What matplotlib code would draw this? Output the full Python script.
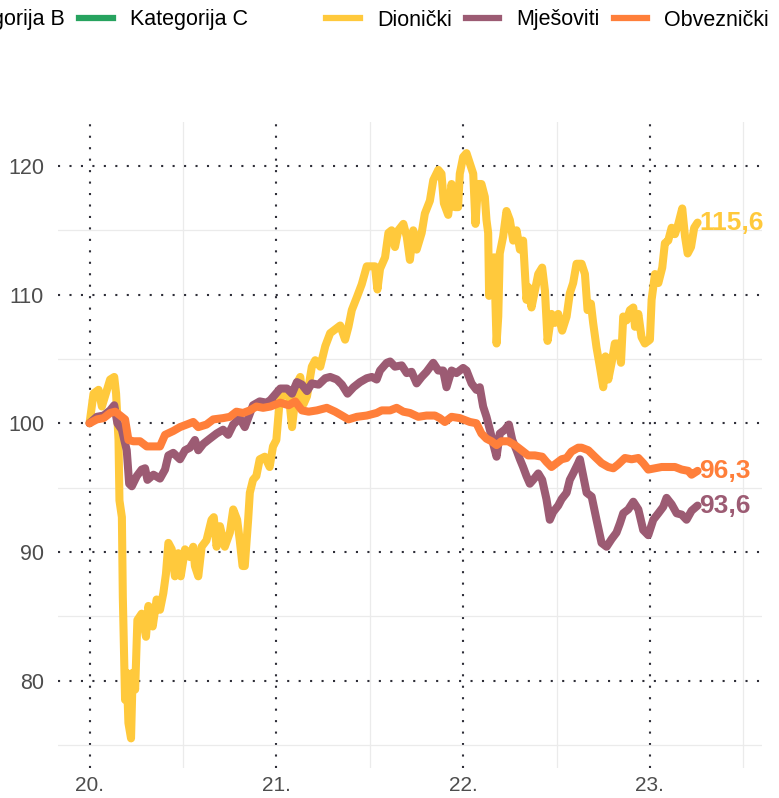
import matplotlib
matplotlib.use('Agg')
import matplotlib.pyplot as plt
from matplotlib.lines import Line2D

plt.rcParams['font.family'] = ['Liberation Sans', 'DejaVu Sans']

# ---------------- data (decimal year, index value) ----------------
dion_t = [2020.000, 2020.021, 2020.048, 2020.066, 2020.093, 2020.110, 2020.132, 2020.142, 2020.155,
          2020.160, 2020.173, 2020.178, 2020.190, 2020.199, 2020.208, 2020.222, 2020.231, 2020.244,
          2020.256, 2020.279, 2020.302, 2020.315, 2020.338, 2020.359, 2020.377, 2020.395, 2020.409,
          2020.422, 2020.440, 2020.457, 2020.475, 2020.488, 2020.511, 2020.537, 2020.555, 2020.564,
          2020.582, 2020.600, 2020.626, 2020.653, 2020.665, 2020.680, 2020.698, 2020.724, 2020.751,
          2020.769, 2020.790, 2020.804, 2020.819, 2020.831, 2020.849, 2020.858, 2020.875, 2020.893,
          2020.911, 2020.938, 2020.964, 2020.982, 2021.000, 2021.018, 2021.039, 2021.066, 2021.084,
          2021.110, 2021.128, 2021.146, 2021.164, 2021.190, 2021.208, 2021.235, 2021.262, 2021.288,
          2021.315, 2021.342, 2021.368, 2021.386, 2021.404, 2021.431, 2021.457, 2021.484, 2021.511,
          2021.528, 2021.541, 2021.555, 2021.582, 2021.600, 2021.617, 2021.635, 2021.653, 2021.680,
          2021.698, 2021.715, 2021.733, 2021.751, 2021.778, 2021.795, 2021.822, 2021.840, 2021.867,
          2021.884, 2021.897, 2021.920, 2021.938, 2021.956, 2021.973, 2021.982, 2022.000, 2022.018,
          2022.036, 2022.054, 2022.066, 2022.080, 2022.098, 2022.116, 2022.125, 2022.134, 2022.139,
          2022.152, 2022.166, 2022.179, 2022.188, 2022.196, 2022.214, 2022.232, 2022.250, 2022.268,
          2022.286, 2022.304, 2022.321, 2022.339, 2022.348, 2022.366, 2022.384, 2022.402, 2022.423,
          2022.438, 2022.452, 2022.473, 2022.491, 2022.509, 2022.530, 2022.554, 2022.571, 2022.589,
          2022.607, 2022.634, 2022.652, 2022.666, 2022.684, 2022.696, 2022.714, 2022.732, 2022.750,
          2022.762, 2022.777, 2022.795, 2022.812, 2022.830, 2022.845, 2022.857, 2022.875, 2022.893,
          2022.911, 2022.920, 2022.938, 2022.955, 2022.973, 2023.000, 2023.009, 2023.027, 2023.045,
          2023.066, 2023.080, 2023.098, 2023.116, 2023.134, 2023.152, 2023.173, 2023.188, 2023.202,
          2023.220, 2023.237, 2023.255]
dion_v = [100.0, 102.3, 102.6, 101.3, 102.6, 103.4, 103.6, 102.3, 98.7,
          94.0, 92.7, 86.5, 78.5, 80.6, 76.7, 75.5, 80.6, 79.3,
          84.7, 85.2, 83.4, 85.8, 84.2, 86.3, 85.5, 86.8, 88.3,
          90.7, 90.2, 88.1, 89.9, 88.1, 90.2, 89.6, 90.4, 88.9,
          88.1, 90.4, 90.9, 92.5, 92.7, 90.4, 92.0, 90.4, 91.5,
          93.3, 92.5, 90.9, 88.9, 88.9, 92.5, 94.6, 95.6, 95.9,
          97.2, 97.4, 96.6, 98.2, 98.7, 101.8, 102.3, 102.3, 99.7,
          103.1, 103.6, 101.5, 102.1, 104.4, 104.9, 104.4, 106.0, 107.0,
          107.3, 107.6, 106.5, 107.5, 108.8, 109.8, 110.8, 112.2, 112.2,
          112.2, 110.4, 112.0, 112.9, 114.8, 115.0, 113.7, 115.0, 115.5,
          114.5, 112.7, 115.0, 113.5, 114.8, 116.3, 117.3, 118.9, 119.7,
          119.4, 117.1, 116.2, 118.6, 116.8, 116.8, 119.4, 120.7, 121.0,
          120.2, 119.4, 115.5, 118.6, 118.6, 117.6, 115.8, 114.8, 109.9,
          110.9, 112.9, 106.2, 108.3, 113.2, 114.5, 116.5, 115.8, 114.2,
          115.0, 113.5, 114.2, 109.6, 110.6, 109.0, 110.3, 111.6, 112.1,
          110.3, 106.4, 108.5, 107.8, 108.5, 107.2, 108.3, 110.1, 110.9,
          112.4, 112.4, 111.6, 108.8, 109.3, 107.8, 105.9, 104.4, 102.8,
          105.2, 103.4, 104.7, 106.2, 106.2, 104.7, 108.3, 108.0, 108.8,
          109.0, 107.5, 108.5, 106.7, 106.2, 106.5, 109.6, 111.6, 110.9,
          112.1, 114.0, 114.2, 115.2, 114.7, 115.5, 116.7, 114.5, 113.2,
          113.7, 115.2, 115.6]

mjes_t = [2020.000, 2020.039, 2020.075, 2020.110, 2020.132, 2020.149, 2020.173, 2020.199, 2020.212,
          2020.226, 2020.253, 2020.279, 2020.297, 2020.310, 2020.342, 2020.377, 2020.404, 2020.422,
          2020.448, 2020.484, 2020.511, 2020.537, 2020.564, 2020.582, 2020.609, 2020.644, 2020.680,
          2020.715, 2020.742, 2020.769, 2020.804, 2020.831, 2020.849, 2020.875, 2020.911, 2020.947,
          2020.968, 2021.021, 2021.057, 2021.084, 2021.110, 2021.137, 2021.164, 2021.190, 2021.226,
          2021.262, 2021.288, 2021.324, 2021.351, 2021.381, 2021.413, 2021.448, 2021.484, 2021.511,
          2021.537, 2021.555, 2021.591, 2021.609, 2021.635, 2021.671, 2021.698, 2021.724, 2021.751,
          2021.778, 2021.804, 2021.840, 2021.867, 2021.893, 2021.911, 2021.938, 2021.964, 2022.000,
          2022.018, 2022.045, 2022.071, 2022.089, 2022.107, 2022.125, 2022.143, 2022.161, 2022.179,
          2022.196, 2022.223, 2022.245, 2022.263, 2022.286, 2022.304, 2022.321, 2022.339, 2022.357,
          2022.375, 2022.402, 2022.423, 2022.446, 2022.464, 2022.482, 2022.509, 2022.527, 2022.554,
          2022.571, 2022.589, 2022.616, 2022.625, 2022.643, 2022.661, 2022.688, 2022.714, 2022.741,
          2022.768, 2022.795, 2022.821, 2022.839, 2022.857, 2022.884, 2022.911, 2022.938, 2022.964,
          2022.991, 2023.018, 2023.045, 2023.071, 2023.089, 2023.116, 2023.143, 2023.170, 2023.196,
          2023.223, 2023.255]
mjes_v = [100.0, 100.5, 100.6, 101.0, 101.4, 100.0, 99.5, 97.9, 95.3,
          95.1, 95.9, 96.4, 96.5, 95.6, 96.0, 95.7, 96.4, 97.5,
          97.7, 97.2, 97.9, 98.1, 98.7, 97.9, 98.4, 98.8, 99.2,
          99.5, 99.1, 99.9, 100.4, 99.7, 100.4, 101.4, 101.7, 101.6,
          101.8, 102.7, 102.7, 102.3, 103.2, 103.0, 102.5, 103.1, 103.0,
          103.5, 103.6, 103.4, 103.0, 102.3, 102.8, 103.2, 103.5, 103.6,
          103.4, 104.1, 104.7, 104.8, 104.4, 104.5, 103.9, 104.0, 103.1,
          103.6, 104.0, 104.7, 104.1, 104.1, 102.8, 104.1, 103.9, 104.3,
          104.1, 103.1, 102.6, 102.8, 101.3, 100.5, 99.5, 98.4, 97.4,
          99.2, 99.5, 99.9, 98.7, 97.9, 97.2, 96.6, 95.9, 95.3,
          95.6, 96.1, 95.6, 94.1, 92.5, 93.1, 93.6, 94.1, 94.6,
          95.6, 96.1, 96.9, 97.2, 95.9, 94.6, 94.3, 92.5, 90.7,
          90.4, 91.0, 91.5, 92.2, 93.0, 93.3, 93.9, 93.3, 91.7,
          91.3, 92.5, 93.0, 93.5, 94.2, 93.7, 93.0, 92.9, 92.5,
          93.2, 93.6]

obv_t = [2020.000, 2020.039, 2020.075, 2020.110, 2020.137, 2020.164, 2020.190, 2020.208, 2020.235,
         2020.270, 2020.306, 2020.342, 2020.377, 2020.404, 2020.448, 2020.484, 2020.520, 2020.555,
         2020.582, 2020.626, 2020.662, 2020.715, 2020.751, 2020.786, 2020.822, 2020.858, 2020.893,
         2020.929, 2020.968, 2021.021, 2021.066, 2021.101, 2021.137, 2021.173, 2021.217, 2021.270,
         2021.315, 2021.351, 2021.386, 2021.431, 2021.484, 2021.537, 2021.564, 2021.609, 2021.644,
         2021.680, 2021.715, 2021.760, 2021.804, 2021.849, 2021.875, 2021.902, 2021.938, 2021.982,
         2022.036, 2022.071, 2022.098, 2022.125, 2022.152, 2022.179, 2022.205, 2022.241, 2022.277,
         2022.313, 2022.348, 2022.384, 2022.423, 2022.446, 2022.473, 2022.500, 2022.527, 2022.554,
         2022.580, 2022.616, 2022.634, 2022.670, 2022.705, 2022.741, 2022.777, 2022.804, 2022.830,
         2022.866, 2022.902, 2022.938, 2022.964, 2022.991, 2023.027, 2023.063, 2023.098, 2023.134,
         2023.170, 2023.205, 2023.223, 2023.255]
obv_v = [100.0, 100.3, 100.4, 100.8, 100.9, 100.6, 100.3, 98.7, 98.6,
         98.6, 98.2, 98.2, 98.2, 99.1, 99.4, 99.7, 99.9, 100.1,
         99.7, 99.9, 100.3, 100.4, 100.5, 100.9, 100.8, 101.0, 101.3,
         101.2, 101.3, 101.6, 101.4, 101.7, 101.0, 100.9, 101.0, 101.2,
         100.9, 100.6, 100.3, 100.5, 100.6, 100.8, 101.0, 101.0, 101.2,
         100.9, 100.8, 100.5, 100.6, 100.6, 100.4, 100.1, 100.5, 100.4,
         100.1, 100.0, 99.2, 98.8, 98.6, 98.3, 98.6, 98.6, 98.3,
         97.9, 97.5, 97.5, 97.4, 97.0, 96.6, 96.9, 97.2, 97.3,
         97.8, 98.1, 98.1, 97.9, 97.4, 96.9, 96.6, 96.5, 96.8,
         97.3, 97.2, 97.3, 96.9, 96.4, 96.5, 96.6, 96.6, 96.6,
         96.4, 96.3, 96.0, 96.3]

series_names = ['Dionički', 'Mješoviti', 'Obveznički']
series_colors = ['#FFC93C', '#9C5B73', '#FF7F3A']
legend_labels = ['Kategorija A', 'Kategorija B', 'Kategorija C', '',
                 'Dionički', 'Mješoviti', 'Obveznički']
legend_colors = ['#0B5D33', '#6DBE7F', '#27A35F', 'none',
                 '#FFC93C', '#9C5B73', '#FF7F3A']
y_major = [80, 90, 100, 110, 120]
y_minor = [75, 85, 95, 105, 115]
x_major = [2020, 2021, 2022, 2023]
x_minor = [2020.5, 2021.5, 2022.5, 2023.5]
x_labels = ['20.', '21.', '22.', '23.']

W, H = 779, 798
fig = plt.figure(figsize=(W / 100, H / 100), dpi=100)
ax = fig.add_axes([58 / W, 1 - 768 / H, (762 - 58) / W, (768 - 122) / H])
ax.set_xlim(2019.831, 2023.600)
ax.set_ylim(73.2, 123.42)

for s in ax.spines.values():
    s.set_visible(False)
ax.set_yticks(y_major)
ax.set_yticks(y_minor, minor=True)
ax.set_xticks(x_major)
ax.set_xticklabels(x_labels)
ax.set_xticks(x_minor, minor=True)
ax.tick_params(which='both', length=0)
ax.tick_params(axis='y', which='major', pad=10, labelsize=15.5, labelcolor='#4D4D4D')
ax.tick_params(axis='x', which='major', pad=5.5, labelsize=15, labelcolor='#4D4D4D')
ax.grid(which='minor', color='#EBEBEB', lw=0.9, ls='-', zorder=0)
ax.grid(which='major', color='#2E2E38', lw=1.5, ls=(0, (1, 4.5)), zorder=1)
ax.set_axisbelow(True)

data = [(dion_t, dion_v), (mjes_t, mjes_v), (obv_t, obv_v)]
for (t, v), c in zip(data, series_colors):
    ax.plot(t, v, color=c, lw=5.8, solid_joinstyle='round', solid_capstyle='round', zorder=3)
    ax.text(t[-1] + 0.009, v[-1], f"{v[-1]:.1f}".replace('.', ','), color=c,
            fontsize=19, fontweight='bold', va='center', ha='left', clip_on=False, zorder=4)

handles = [Line2D([], [], color=c, lw=4.5) for c in legend_colors]
leg = fig.legend(handles, legend_labels, ncol=7, loc='center left',
                 bbox_to_anchor=(0, 1 - 20 / H), bbox_transform=fig.transFigure,
                 frameon=False, fontsize=15.5, handlelength=1.55, handletextpad=0.8,
                 columnspacing=0.65, borderpad=0, borderaxespad=0)
fig.canvas.draw()
r = fig.canvas.get_renderer()
bb = leg.get_texts()[4].get_window_extent(r)
dx = 377 - bb.x0
leg.set_bbox_to_anchor((dx / W, 1 - 20 / H), transform=fig.transFigure)

fig.savefig('out.png', dpi=100)
